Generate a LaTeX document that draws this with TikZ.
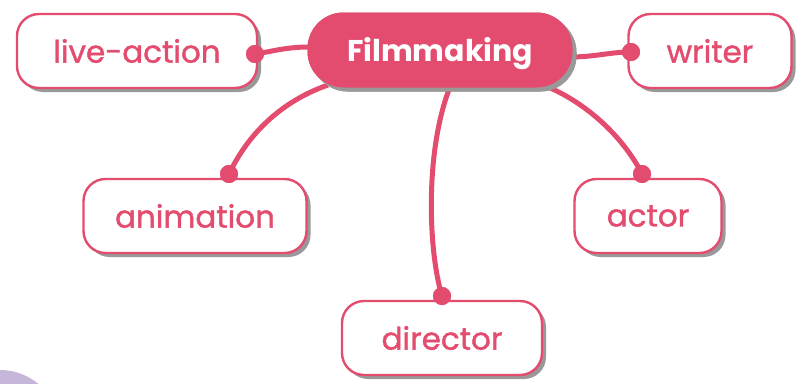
\documentclass[tikz,border=0pt]{standalone}
\usepackage{fontspec}
\setmainfont{Poppins}
\newfontfamily\leaffont[FakeBold=1.2]{Poppins}
\usetikzlibrary{shadows}
\definecolor{pk}{HTML}{E34C6E}
\definecolor{lav}{HTML}{C6B6DA}
\tikzset{
  leaf/.style={draw=pk, line width=2.4pt, fill=white, rounded corners=22pt,
    minimum height=74pt, text=pk, font=\leaffont\fontsize{31}{34}\selectfont,
    drop shadow={shadow xshift=4pt, shadow yshift=-4pt, fill=black!40, opacity=1}},
  root/.style={fill=pk, rounded corners=36pt, minimum height=75pt, minimum width=265pt,
    text=white, font=\fontsize{30}{33}\selectfont\bfseries,
    drop shadow={shadow xshift=4pt, shadow yshift=-4pt, fill=black!40, opacity=1}},
  conn/.style={draw=pk, line width=5pt},
  knob/.style={circle, fill=pk, inner sep=0pt, minimum size=18pt}
}
\newcommand{\lowtext}[1]{\raisebox{-4pt}[\height][\depth]{#1}}
\begin{document}
\begin{tikzpicture}[x=1pt,y=-1pt]
\useasboundingbox (0,0) rectangle (811,383);
\begin{scope}
\clip (0,0) rectangle (811,383);
\fill[lav] (0,430) circle (60);
\end{scope}
\node[root] (root) at (440,50) {\lowtext{Filmmaking}};
\node[leaf, minimum width=240pt] (live) at (137,51) {live-action};
\node[leaf, minimum width=163pt] (writer) at (710,51) {writer};
\node[leaf, minimum width=223pt] (anim) at (195,216) {animation};
\node[leaf, minimum width=147pt] (actor) at (648,216) {actor};
\node[leaf, minimum width=200pt] (dir) at (442,338) {director};
\coordinate (rl) at (309,47);
\coordinate (rr) at (570,57);
\coordinate (ra) at (328,85);
\coordinate (rd) at (450,87);
\coordinate (rc) at (548,87);
\node[knob] (kl) at (255,54) {};
\node[knob] (kw) at (631,52) {};
\node[knob] (ka) at (229,174) {};
\node[knob] (kc) at (642,174) {};
\node[knob] (kd) at (442,296) {};
\draw[conn] (rl) .. controls (285,47) and (270,52) .. (kl.center);
\draw[conn] (rr) .. controls (595,57) and (610,52) .. (kw.center);
\draw[conn] (ra) .. controls (285,100) and (250,130) .. (ka.center);
\draw[conn] (rd) .. controls (425,150) and (428,250) .. (kd.center);
\draw[conn] (rc) .. controls (590,105) and (625,140) .. (kc.center);
\node[knob] at (kl) {};
\node[knob] at (kw) {};
\node[knob] at (ka) {};
\node[knob] at (kc) {};
\node[knob] at (kd) {};
\node[root] at (root) {\lowtext{Filmmaking}};
\end{tikzpicture}
\end{document}
